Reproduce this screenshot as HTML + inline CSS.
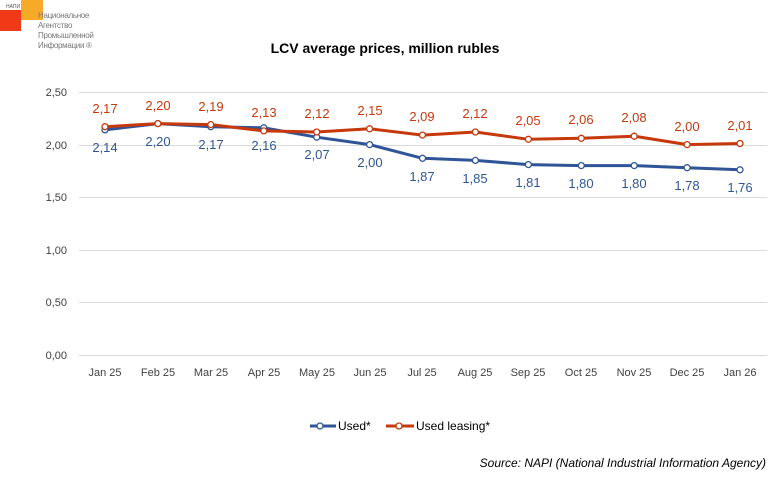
<!DOCTYPE html>
<html><head><meta charset="utf-8"><style>
body{margin:0;background:#fff;width:776px;height:475px;overflow:hidden;font-family:"Liberation Sans",Arial,sans-serif}
</style></head><body>
<svg width="776" height="475" xmlns="http://www.w3.org/2000/svg" font-family="Liberation Sans, Arial, sans-serif">
<rect x="0" y="10" width="21" height="21" fill="#f03a17"/>
<rect x="21" y="0" width="22" height="20" fill="#f7a928"/>
<text x="6" y="8" font-size="5" fill="#555">НАПИ</text>
<g font-size="8" fill="#777" letter-spacing="-0.3"><text x="38" y="18">Национальное</text><text x="38" y="28">Агентство</text><text x="38" y="38">Промышленной</text><text x="38" y="48">Информации ®</text></g>
<text x="385" y="53" font-size="14" font-weight="bold" text-anchor="middle" fill="#000">LCV average prices, million rubles</text>
<g stroke="#d9d9d9" stroke-width="1">
<line x1="79" x2="767" y1="92.5" y2="92.5"/><line x1="79" x2="767" y1="145.5" y2="145.5"/><line x1="79" x2="767" y1="197.5" y2="197.5"/><line x1="79" x2="767" y1="250.5" y2="250.5"/><line x1="79" x2="767" y1="302.5" y2="302.5"/><line x1="79" x2="767" y1="355.5" y2="355.5"/>
</g>
<g font-size="11" fill="#404040" text-anchor="end">
<text x="67" y="96">2,50</text><text x="67" y="149">2,00</text><text x="67" y="201">1,50</text><text x="67" y="254">1,00</text><text x="67" y="306">0,50</text><text x="67" y="359">0,00</text>
</g>
<g font-size="11" fill="#404040" text-anchor="middle">
<text x="105" y="376">Jan 25</text><text x="158" y="376">Feb 25</text><text x="211" y="376">Mar 25</text><text x="264" y="376">Apr 25</text><text x="317" y="376">May 25</text><text x="370" y="376">Jun 25</text><text x="422" y="376">Jul 25</text><text x="475" y="376">Aug 25</text><text x="528" y="376">Sep 25</text><text x="581" y="376">Oct 25</text><text x="634" y="376">Nov 25</text><text x="687" y="376">Dec 25</text><text x="740" y="376">Jan 26</text>
</g>
<polyline fill="none" stroke="#2f5597" stroke-width="3" stroke-linejoin="round" points="105,129.9 157.9,123.6 210.8,126.7 263.8,127.8 316.7,137.2 369.6,144.6 422.5,158.3 475.4,160.4 528.4,164.6 581.3,165.6 634.2,165.6 687.1,167.7 740,169.8"/>
<g fill="#fff" stroke="#2f5597" stroke-width="1.3">
<circle cx="105" cy="129.9" r="3"/><circle cx="157.9" cy="123.6" r="3"/><circle cx="210.8" cy="126.7" r="3"/><circle cx="263.8" cy="127.8" r="3"/><circle cx="316.7" cy="137.2" r="3"/><circle cx="369.6" cy="144.6" r="3"/><circle cx="422.5" cy="158.3" r="3"/><circle cx="475.4" cy="160.4" r="3"/><circle cx="528.4" cy="164.6" r="3"/><circle cx="581.3" cy="165.6" r="3"/><circle cx="634.2" cy="165.6" r="3"/><circle cx="687.1" cy="167.7" r="3"/><circle cx="740" cy="169.8" r="3"/>
</g>
<polyline fill="none" stroke="#c5390c" stroke-width="3" stroke-linejoin="round" points="105,126.7 157.9,123.6 210.8,124.6 263.8,130.9 316.7,132 369.6,128.8 422.5,135.1 475.4,132 528.4,139.3 581.3,138.3 634.2,136.2 687.1,144.6 740,143.5"/>
<g fill="#fff" stroke="#c5390c" stroke-width="1.3">
<circle cx="105" cy="126.7" r="3"/><circle cx="157.9" cy="123.6" r="3"/><circle cx="210.8" cy="124.6" r="3"/><circle cx="263.8" cy="130.9" r="3"/><circle cx="316.7" cy="132" r="3"/><circle cx="369.6" cy="128.8" r="3"/><circle cx="422.5" cy="135.1" r="3"/><circle cx="475.4" cy="132" r="3"/><circle cx="528.4" cy="139.3" r="3"/><circle cx="581.3" cy="138.3" r="3"/><circle cx="634.2" cy="136.2" r="3"/><circle cx="687.1" cy="144.6" r="3"/><circle cx="740" cy="143.5" r="3"/>
</g>
<g font-size="13" fill="#c5390c" text-anchor="middle">
<text x="105" y="113">2,17</text><text x="158" y="110">2,20</text><text x="211" y="111">2,19</text><text x="264" y="117">2,13</text><text x="317" y="118">2,12</text><text x="370" y="115">2,15</text><text x="422" y="121">2,09</text><text x="475" y="118">2,12</text><text x="528" y="125">2,05</text><text x="581" y="124">2,06</text><text x="634" y="122">2,08</text><text x="687" y="131">2,00</text><text x="740" y="130">2,01</text>
</g>
<g font-size="13" fill="#2f5597" text-anchor="middle">
<text x="105" y="152">2,14</text><text x="158" y="146">2,20</text><text x="211" y="149">2,17</text><text x="264" y="150">2,16</text><text x="317" y="159">2,07</text><text x="370" y="167">2,00</text><text x="422" y="181">1,87</text><text x="475" y="183">1,85</text><text x="528" y="187">1,81</text><text x="581" y="188">1,80</text><text x="634" y="188">1,80</text><text x="687" y="190">1,78</text><text x="740" y="192">1,76</text>
</g>
<line x1="310" x2="336" y1="426" y2="426" stroke="#2f5597" stroke-width="3"/>
<circle cx="320" cy="426" r="3" fill="#fff" stroke="#2f5597" stroke-width="1.3"/>
<text x="338" y="430" font-size="12" fill="#000">Used*</text>
<line x1="386" x2="414" y1="426" y2="426" stroke="#c5390c" stroke-width="3"/>
<circle cx="399" cy="426" r="3" fill="#fff" stroke="#c5390c" stroke-width="1.3"/>
<text x="416" y="430" font-size="12" fill="#000">Used leasing*</text>
<text x="766" y="467" font-size="12" font-style="italic" text-anchor="end" fill="#000">Source: NAPI (National Industrial Information Agency)</text>
</svg>
</body></html>
